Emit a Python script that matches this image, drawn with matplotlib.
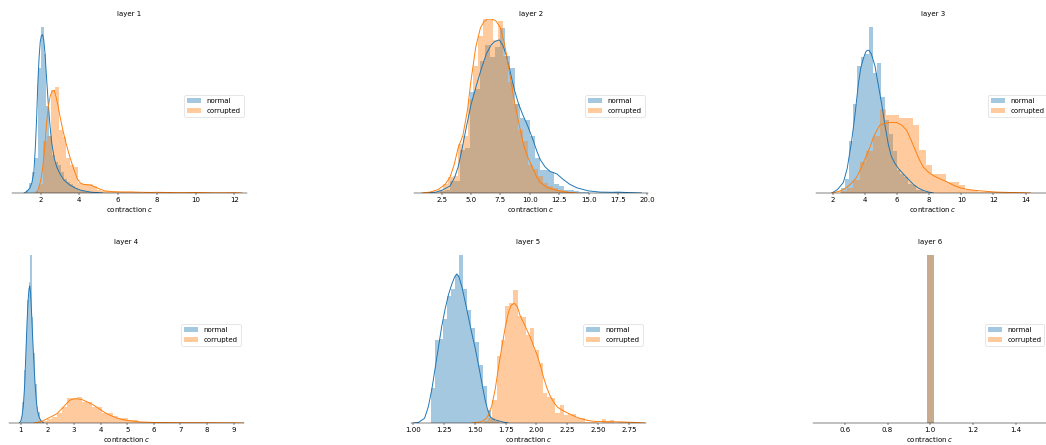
import numpy as np
import matplotlib
matplotlib.use("Agg")
import matplotlib.pyplot as plt

# ---------------- data (heights in fraction of panel height) ----------------
titles = ["layer 1", "layer 2", "layer 3", "layer 4", "layer 5", "layer 6"]
series_labels = ["normal", "corrupted"]
xlims = [(0.52, 12.66), (0.14, 20.06), (0.93, 15.55), (0.56, 9.39), (0.98, 2.89), (0.45, 1.55)]

# layer 1
l1_norm_start, l1_norm_width = 1.25, 0.15
l1_norm_heights = [0.02, 0.06, 0.12, 0.20, 0.72, 0.955, 0.80, 0.50, 0.33, 0.22, 0.18, 0.16,
                   0.12, 0.08, 0.065, 0.05, 0.04, 0.03, 0.02, 0.015, 0.01, 0.008, 0.005, 0.004, 0.004]
l1_corr_start, l1_corr_width = 1.73, 0.2
l1_corr_heights = [0.01, 0.05, 0.30, 0.33, 0.59, 0.61, 0.36, 0.32, 0.20, 0.16, 0.15, 0.055,
                   0.05, 0.05, 0.05, 0.04, 0.02, 0.01, 0.01,
                   0.008, 0.006, 0.008, 0.005, 0.004, 0.006, 0.003, 0.004, 0.002, 0.003, 0.004,
                   0.002, 0.0, 0.003, 0.002, 0.004, 0.0, 0.002, 0.0, 0.002, 0.003, 0.0, 0.002,
                   0.0, 0.0, 0.002, 0.0, 0.0, 0.0, 0.0, 0.002, 0.0, 0.002]
l1_norm_kde_x = [1.15, 1.3, 1.45, 1.55, 1.65, 1.72, 1.79, 1.85, 1.92, 1.98, 2.04, 2.1, 2.16, 2.22,
                 2.3, 2.39, 2.48, 2.57, 2.7, 2.83, 3.0, 3.2, 3.5, 3.8, 4.1, 4.6, 5.2]
l1_norm_kde_y = [0.0, 0.01, 0.03, 0.06, 0.12, 0.25, 0.42, 0.62, 0.78, 0.87, 0.905, 0.91, 0.88, 0.81,
                 0.67, 0.52, 0.39, 0.29, 0.2, 0.15, 0.11, 0.075, 0.046, 0.028, 0.015, 0.005, 0.0]
l1_corr_kde_x = [1.8, 1.9, 2.0, 2.1, 2.2, 2.3, 2.4, 2.5, 2.6, 2.7, 2.8, 2.9, 3.0, 3.15, 3.3, 3.5,
                 3.7, 3.9, 4.05, 4.2, 4.4, 4.6, 4.8, 5.0, 5.3, 5.7, 6.2, 6.7, 7.2, 7.7, 8.0, 8.5,
                 9.0, 9.5, 10.0, 10.5, 11.0, 11.5, 12.0, 12.4]
l1_corr_kde_y = [0.0, 0.03, 0.07, 0.14, 0.25, 0.39, 0.5, 0.56, 0.585, 0.59, 0.55, 0.5, 0.44, 0.36,
                 0.29, 0.21, 0.14, 0.08, 0.058, 0.05, 0.047, 0.045, 0.035, 0.025, 0.012, 0.008,
                 0.006, 0.006, 0.004, 0.003, 0.004, 0.003, 0.002, 0.002, 0.003, 0.002, 0.001,
                 0.001, 0.002, 0.0]

# layer 2
l2_norm_start, l2_norm_width = 1.9, 0.425
l2_norm_heights = [0.0, 0.01, 0.02, 0.07, 0.07, 0.25, 0.26, 0.58, 0.60, 0.76, 0.85, 0.78, 0.84,
                   0.95, 0.79, 0.72, 0.51, 0.43, 0.42, 0.33, 0.20, 0.13, 0.13, 0.12, 0.05, 0.04,
                   0.02, 0.015, 0.01, 0.005, 0.005, 0.0, 0.0, 0.0, 0.0, 0.0, 0.008, 0.004]
l2_corr_start, l2_corr_width = 1.785, 0.425
l2_corr_heights = [0.005, 0.015, 0.05, 0.09, 0.095, 0.28, 0.33, 0.54, 0.73, 0.90, 1.0, 1.0, 0.88,
                   0.99, 0.79, 0.64, 0.51, 0.36, 0.30, 0.16, 0.14, 0.10, 0.06, 0.04, 0.03, 0.015,
                   0.01, 0.005]
l2_norm_kde_x = [1.0, 2.0, 2.5, 3.2, 3.6, 3.9, 4.25, 4.6, 5.0, 5.5, 5.9, 6.3, 6.7, 7.0, 7.4, 7.7,
                 8.0, 8.35, 8.7, 9.05, 9.4, 9.85, 10.3, 10.6, 10.9, 11.3, 11.7, 12.3, 12.8, 13.4,
                 14.0, 15.0, 16.0, 17.0, 17.5, 18.5, 19.5]
l2_norm_kde_y = [0.0, 0.005, 0.015, 0.04, 0.09, 0.15, 0.26, 0.38, 0.51, 0.63, 0.72, 0.80, 0.85,
                 0.87, 0.88, 0.85, 0.79, 0.69, 0.59, 0.51, 0.45, 0.38, 0.30, 0.24, 0.19, 0.15,
                 0.125, 0.11, 0.08, 0.05, 0.03, 0.012, 0.005, 0.004, 0.005, 0.002, 0.0]
l2_corr_kde_x = [0.8, 1.5, 2.2, 2.8, 3.2, 3.55, 3.9, 4.3, 4.7, 5.0, 5.4, 5.8, 6.1, 6.4, 6.75, 7.1,
                 7.5, 7.8, 8.0, 8.35, 8.7, 9.1, 9.45, 9.8, 10.2, 10.6, 10.9, 11.5, 12.3, 13.0, 14.0]
l2_corr_kde_y = [0.0, 0.005, 0.02, 0.05, 0.09, 0.16, 0.26, 0.33, 0.48, 0.65, 0.84, 0.95, 0.985,
                 1.0, 1.0, 0.99, 0.95, 0.87, 0.80, 0.66, 0.52, 0.39, 0.28, 0.21, 0.15, 0.09,
                 0.06, 0.03, 0.015, 0.006, 0.0]

# layer 3
l3_norm_start, l3_norm_width = 2.54, 0.245
l3_norm_heights = [0.03, 0.08, 0.30, 0.51, 0.73, 0.78, 0.80, 0.955, 0.69, 0.75, 0.55, 0.42, 0.34,
                   0.24, 0.13, 0.11, 0.09, 0.05, 0.046, 0.02, 0.015, 0.008, 0.004]
l3_corr_start, l3_corr_width = 2.46, 0.41
l3_corr_heights = [0.01, 0.027, 0.075, 0.18, 0.24, 0.33, 0.48, 0.45, 0.45, 0.43, 0.43, 0.39,
                   0.25, 0.16, 0.11, 0.11, 0.065, 0.065, 0.046, 0.017, 0.017, 0.008, 0.008,
                   0.008, 0.004, 0.004, 0.004, 0.004, 0.002]
l3_norm_kde_x = [1.95, 2.3, 2.66, 2.9, 3.18, 3.4, 3.6, 3.75, 3.9, 4.05, 4.15, 4.26, 4.4, 4.5,
                 4.63, 4.8, 5.05, 5.25, 5.46, 5.65, 5.87, 6.1, 6.39, 6.7, 7.01, 7.3, 7.63, 7.95, 8.25]
l3_norm_kde_y = [0.0, 0.02, 0.06, 0.14, 0.30, 0.46, 0.63, 0.72, 0.77, 0.81, 0.82, 0.82, 0.80,
                 0.77, 0.73, 0.64, 0.51, 0.39, 0.28, 0.21, 0.17, 0.14, 0.11, 0.08, 0.05, 0.03,
                 0.015, 0.006, 0.0]
l3_corr_kde_x = [1.95, 2.4, 2.77, 3.1, 3.49, 3.8, 4.12, 4.35, 4.53, 4.75, 4.94, 5.2, 5.56, 5.98,
                 6.3, 6.6, 6.85, 7.12, 7.4, 7.63, 7.95, 8.26, 8.7, 9.09, 9.5, 9.92, 10.4, 10.96,
                 11.5, 12.2, 13.0, 14.3]
l3_corr_kde_y = [0.0, 0.01, 0.025, 0.05, 0.09, 0.15, 0.22, 0.27, 0.32, 0.36, 0.39, 0.40, 0.405,
                 0.405, 0.39, 0.36, 0.31, 0.25, 0.19, 0.15, 0.12, 0.10, 0.08, 0.065, 0.045, 0.03,
                 0.02, 0.014, 0.01, 0.005, 0.003, 0.0]

# layer 4
l4_norm_start, l4_norm_width = 1.0, 0.06
l4_norm_heights = [0.03, 0.12, 0.30, 0.50, 0.70, 0.80, 0.953, 0.60, 0.40, 0.22, 0.09, 0.06, 0.02]
l4_corr_start, l4_corr_width = 1.6, 0.19
l4_corr_heights = [0.005, 0.01, 0.02, 0.035, 0.055, 0.09, 0.144, 0.144, 0.15, 0.121, 0.121, 0.093,
                   0.093, 0.055, 0.055, 0.04, 0.03, 0.03, 0.017, 0.015, 0.008, 0.004, 0.003,
                   0.002, 0.002, 0.0, 0.002, 0.0, 0.002, 0.0, 0.0, 0.002, 0.0, 0.0, 0.002, 0.0,
                   0.0, 0.002, 0.0, 0.0, 0.0, 0.002]
l4_norm_kde_x = [0.95, 1.0, 1.05, 1.1, 1.15, 1.2, 1.24, 1.28, 1.31, 1.34, 1.37, 1.41, 1.45, 1.5,
                 1.54, 1.58, 1.62, 1.66, 1.7, 1.75, 1.85]
l4_norm_kde_y = [0.0, 0.01, 0.04, 0.1, 0.22, 0.42, 0.58, 0.7, 0.76, 0.78, 0.74, 0.62, 0.48, 0.33,
                 0.22, 0.14, 0.08, 0.05, 0.03, 0.015, 0.0]
l4_corr_kde_x = [1.5, 1.8, 2.0, 2.2, 2.36, 2.5, 2.6, 2.75, 2.85, 2.97, 3.1, 3.3, 3.5, 3.7, 3.86,
                 4.05, 4.23, 4.42, 4.61, 4.8, 4.98, 5.5, 6.0, 7.0, 8.0, 9.0, 9.4]
l4_corr_kde_y = [0.0, 0.01, 0.025, 0.04, 0.053, 0.075, 0.09, 0.115, 0.13, 0.136, 0.138, 0.133,
                 0.12, 0.105, 0.09, 0.07, 0.053, 0.04, 0.028, 0.02, 0.015, 0.006, 0.003, 0.002,
                 0.002, 0.001, 0.0]

# layer 5
l5_norm_start, l5_norm_width = 1.144, 0.0325
l5_norm_heights = [0.20, 0.47, 0.48, 0.59, 0.72, 0.76, 0.84, 0.955, 0.76, 0.64, 0.54, 0.46, 0.33,
                   0.21, 0.074, 0.027, 0.01]
l5_corr_start, l5_corr_width = 1.574, 0.0341
l5_corr_heights = [0.01, 0.027, 0.13, 0.38, 0.47, 0.665, 0.68, 0.755, 0.61, 0.60, 0.50, 0.54,
                   0.415, 0.34, 0.17, 0.15, 0.14, 0.055, 0.10, 0.045, 0.05, 0.05, 0.027, 0.027,
                   0.008, 0.008, 0.008, 0.0, 0.023, 0.008, 0.017, 0.0, 0.008, 0.004, 0.004, 0.004]
l5_norm_kde_x = [1.0, 1.04, 1.09, 1.12, 1.149, 1.176, 1.203, 1.23, 1.258, 1.285, 1.312, 1.335,
                 1.352, 1.37, 1.393, 1.42, 1.447, 1.474, 1.5, 1.52, 1.542, 1.563, 1.583, 1.603,
                 1.623, 1.65, 1.69, 1.73, 1.77]
l5_norm_kde_y = [0.0, 0.003, 0.027, 0.09, 0.19, 0.31, 0.43, 0.55, 0.65, 0.73, 0.79, 0.83, 0.847,
                 0.83, 0.775, 0.69, 0.6, 0.51, 0.43, 0.36, 0.28, 0.2, 0.13, 0.075, 0.036, 0.02,
                 0.013, 0.005, 0.0]
l5_corr_kde_x = [1.474, 1.556, 1.59, 1.61, 1.637, 1.664, 1.69, 1.718, 1.745, 1.772, 1.795, 1.82,
                 1.845, 1.867, 1.895, 1.921, 1.948, 1.975, 2.003, 2.03, 2.057, 2.084, 2.11, 2.138,
                 2.17, 2.206, 2.25, 2.287, 2.33, 2.368, 2.41, 2.449, 2.5, 2.557, 2.62, 2.69, 2.76,
                 2.83, 2.88]
l5_corr_kde_y = [0.0, 0.008, 0.025, 0.045, 0.1, 0.19, 0.31, 0.43, 0.54, 0.63, 0.67, 0.68, 0.66,
                 0.61, 0.57, 0.53, 0.49, 0.44, 0.39, 0.33, 0.26, 0.2, 0.155, 0.12, 0.09, 0.074,
                 0.058, 0.045, 0.032, 0.023, 0.016, 0.011, 0.008, 0.008, 0.007, 0.006, 0.004,
                 0.002, 0.0]

# layer 6 (constant values, no density curve)
l6_norm_start, l6_norm_width = 0.984, 0.032
l6_norm_heights = [0.953]
l6_corr_start, l6_corr_width = 0.984, 0.032
l6_corr_heights = [0.953]

layers = [
    dict(norm=(l1_norm_start, l1_norm_width, l1_norm_heights), corr=(l1_corr_start, l1_corr_width, l1_corr_heights),
         nk=(l1_norm_kde_x, l1_norm_kde_y), ck=(l1_corr_kde_x, l1_corr_kde_y)),
    dict(norm=(l2_norm_start, l2_norm_width, l2_norm_heights), corr=(l2_corr_start, l2_corr_width, l2_corr_heights),
         nk=(l2_norm_kde_x, l2_norm_kde_y), ck=(l2_corr_kde_x, l2_corr_kde_y)),
    dict(norm=(l3_norm_start, l3_norm_width, l3_norm_heights), corr=(l3_corr_start, l3_corr_width, l3_corr_heights),
         nk=(l3_norm_kde_x, l3_norm_kde_y), ck=(l3_corr_kde_x, l3_corr_kde_y)),
    dict(norm=(l4_norm_start, l4_norm_width, l4_norm_heights), corr=(l4_corr_start, l4_corr_width, l4_corr_heights),
         nk=(l4_norm_kde_x, l4_norm_kde_y), ck=(l4_corr_kde_x, l4_corr_kde_y)),
    dict(norm=(l5_norm_start, l5_norm_width, l5_norm_heights), corr=(l5_corr_start, l5_corr_width, l5_corr_heights),
         nk=(l5_norm_kde_x, l5_norm_kde_y), ck=(l5_corr_kde_x, l5_corr_kde_y)),
    dict(norm=(l6_norm_start, l6_norm_width, l6_norm_heights), corr=(l6_corr_start, l6_corr_width, l6_corr_heights),
         nk=None, ck=None),
]

# ---------------- layout ----------------
W, H = 1046, 445
dpi = W / 24.0
fig = plt.figure(figsize=(24, H / dpi), dpi=dpi)

FS = 11.5
plt.rcParams["xtick.labelsize"] = FS

# panel boxes in pixels: (left, top, width, bottom)
boxes = [(12, 19, 235, 193), (414, 19, 234, 193), (815.5, 19, 235, 193),
         (9, 247, 235, 423), (411, 247, 235, 423), (812.8, 247, 235, 423)]

colors = ["#1f77b4", "#ff7f0e"]

for i, (lay, box) in enumerate(zip(layers, boxes)):
    left, top, width, bottom = box
    ax = fig.add_axes([left / W, (H - bottom) / H, width / W, (bottom - top) / H])
    for key, col, lab in (("norm", colors[0], series_labels[0]), ("corr", colors[1], series_labels[1])):
        start, w, heights = lay[key]
        edges = start + w * np.arange(len(heights))
        ax.bar(edges, heights, width=w, align="edge", color=col, alpha=0.4,
               linewidth=0, label=lab)
    for key, col in (("nk", colors[0]), ("ck", colors[1])):
        if lay[key] is not None:
            ax.plot(lay[key][0], lay[key][1], color=col, lw=1.6)
    ax.set_xlim(*xlims[i])
    ax.set_ylim(0, 1)
    ax.set_yticks([])
    ax.tick_params(axis="x", labelsize=FS)
    for s in ("top", "right", "left"):
        ax.spines[s].set_visible(False)
    ax.set_title(titles[i], fontsize=FS, pad=5)
    ax.set_xlabel("contraction $c$", fontsize=FS, labelpad=3)
    ax.legend(loc="center right", fontsize=FS)

fig.savefig("out.png", dpi=dpi)
